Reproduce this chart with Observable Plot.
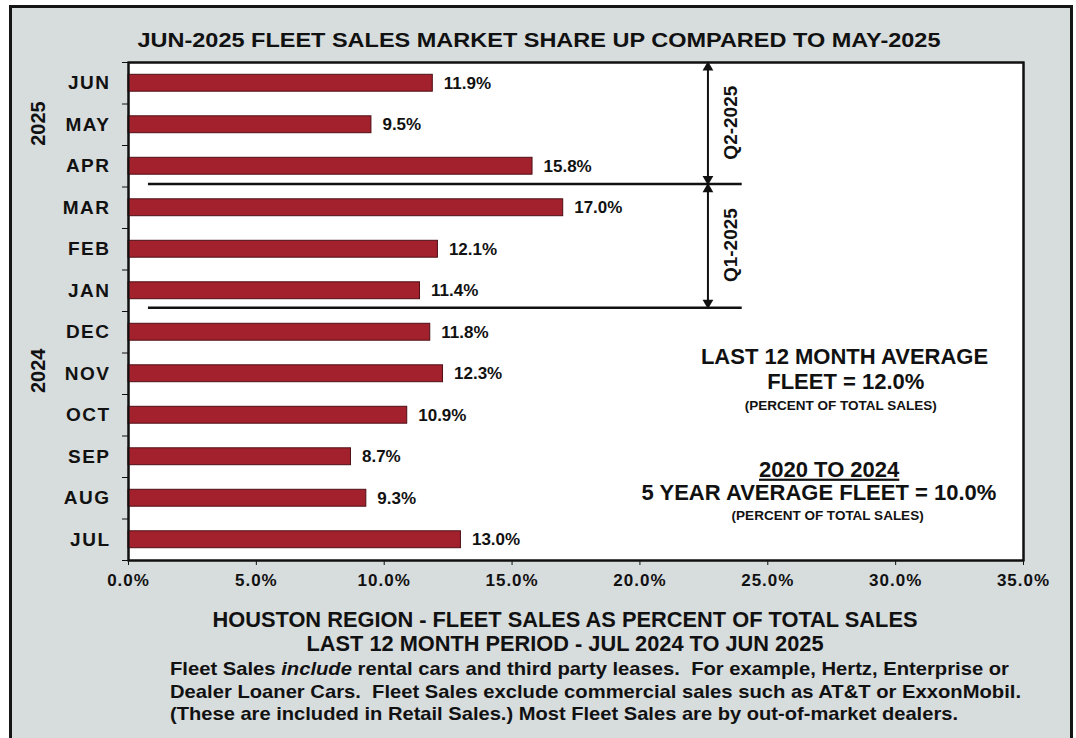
<!DOCTYPE html>
<html><head><meta charset="utf-8">
<script src="https://cdn.jsdelivr.net/npm/d3@7"></script>
<script src="https://cdn.jsdelivr.net/npm/@observablehq/plot@0.6"></script>
<style>
html,body{margin:0;padding:0;background:#fff;}
#page{position:relative;width:1076px;height:738px;overflow:hidden;font-family:"Liberation Sans",Arial,sans-serif;}
#border{position:absolute;left:9px;top:5px;width:1058px;height:745px;border:3px solid #151515;background:#d7dcdd;}
#title,#chart,#caption{position:absolute;left:0;}
#title{top:0;}
#chart{top:50px;}
#caption{top:600px;}
#caption text{white-space:pre;}
</style></head>
<body><div id="page"><div id="border"></div>
<svg id="title" width="1076" height="60"><text x="539" y="47" text-anchor="middle" font-family="Liberation Sans, Arial, sans-serif" font-weight="bold" font-size="21" fill="#111" textLength="803" lengthAdjust="spacingAndGlyphs">JUN-2025 FLEET SALES MARKET SHARE UP COMPARED TO MAY-2025</text></svg>
<div id="chart"></div>
<svg id="caption" width="1076" height="138" font-family="Liberation Sans, Arial, sans-serif" font-weight="bold" fill="#111">
<text x="565" y="27" text-anchor="middle" font-size="22" textLength="705" lengthAdjust="spacingAndGlyphs">HOUSTON REGION - FLEET SALES AS PERCENT OF TOTAL SALES</text>
<text x="565" y="51" text-anchor="middle" font-size="22" textLength="517" lengthAdjust="spacingAndGlyphs">LAST 12 MONTH PERIOD - JUL 2024 TO JUN 2025</text>
<text x="170" y="75" font-size="18.5" textLength="839" lengthAdjust="spacingAndGlyphs">Fleet Sales <tspan font-style="italic">include</tspan> rental cars and third party leases.  For example, Hertz, Enterprise or</text>
<text x="170" y="98" font-size="18.5" textLength="851" lengthAdjust="spacingAndGlyphs">Dealer Loaner Cars.  Fleet Sales exclude commercial sales such as AT&amp;T or ExxonMobil.</text>
<text x="170" y="120" font-size="18.5" textLength="788" lengthAdjust="spacingAndGlyphs">(These are included in Retail Sales.) Most Fleet Sales are by out-of-market dealers.</text>
</svg>
</div>
<script>
const months = ["JUN","MAY","APR","MAR","FEB","JAN","DEC","NOV","OCT","SEP","AUG","JUL"];
const fleetShare = [11.9, 9.5, 15.8, 17.0, 12.1, 11.4, 11.8, 12.3, 10.9, 8.7, 9.3, 13.0];
const xTicks = [0, 5, 10, 15, 20, 25, 30, 35];
const years = ["2025", "2024"];
const quarterLabels = ["Q2-2025", "Q1-2025"];

const rows = months.map((m, i) => ({month: m, idx: i, value: fleetShare[i]}));
const ink = "#111";
const font = "Liberation Sans, Arial, sans-serif";

const plot = Plot.plot({
  width: 1076, height: 550,
  marginLeft: 128, marginRight: 53, marginTop: 12, marginBottom: 40,
  style: {background: "transparent", fontFamily: font, fontWeight: "bold", color: ink, overflow: "visible"},
  x: {domain: [0, 35]},
  y: {domain: [0, 12], reverse: true},
  marks: [
    Plot.frame({fill: "white", stroke: ink, strokeWidth: 2}),
    Plot.rect(rows, {x1: 0, x2: "value", y1: "idx", y2: d => d.idx + 1, insetTop: 12.3, insetBottom: 12.3,
      fill: "#a3212d", stroke: "#4d0e14", strokeWidth: 1}),
    Plot.text(rows, {x: "value", y: d => d.idx + 0.5, text: d => d.value.toFixed(1) + "%", textAnchor: "start", dx: 11,
      fontSize: 17, fontWeight: "bold", fill: ink, ariaLabel: "value-label"}),
    Plot.axisX({ticks: xTicks, tickFormat: d => d.toFixed(1) + "%", tickSize: 5, tickPadding: 8, fontSize: 17, fontWeight: "bold", label: null, stroke: ink}),
    Plot.axisY({ticks: d3.range(0, 13), tickFormat: () => "", tickSize: 6, label: null, stroke: ink}),
    Plot.axisY({ticks: months.map((m, i) => i + 0.5), tickFormat: d => months[Math.round(d - 0.5)], tickSize: 0, tickPadding: 18, fontSize: 19, fontWeight: "bold", label: null}),
    Plot.text(years, {y: (d, i) => [1.47, 7.43][i], frameAnchor: "left", textAnchor: "middle", dx: -90, rotate: -90, text: d => d, fontSize: 20, fontWeight: "bold", fill: ink, ariaLabel: "year-label"}),
    Plot.ruleY([2.93, 5.91], {x1: 0.78, x2: 24.0, strokeWidth: 2.5, stroke: ink}),
    Plot.link([[0, 2.93], [2.93, 5.91]], {x1: 22.66, x2: 22.66, y1: d => d[0], y2: d => d[1], strokeWidth: 2, stroke: ink}),
    Plot.dot([0, 2.93], {x: 22.66, y: d => d, dy: 5, symbol: "triangle", r: 4, fill: ink, stroke: null}),
    Plot.dot([2.93, 5.91], {x: 22.66, y: d => d, dy: -5, symbol: "triangle", rotate: 180, r: 4, fill: ink, stroke: null}),
    Plot.text(quarterLabels, {x: 23.55, y: (d, i) => [1.45, 4.4][i], rotate: -90, text: d => d, fontSize: 19, fontWeight: "bold", fill: ink}),
    Plot.text(["LAST 12 MONTH AVERAGE"], {x: 28.0, y: 7.09, text: d => d, fontSize: 22, fontWeight: "bold", fill: ink}),
    Plot.text(["FLEET = 12.0%"], {x: 28.05, y: 7.69, text: d => d, fontSize: 22, fontWeight: "bold", fill: ink}),
    Plot.text(["(PERCENT OF TOTAL SALES)"], {x: 27.85, y: 8.27, text: d => d, fontSize: 13.5, fontWeight: "bold", fill: ink}),
    Plot.text(["2020 TO 2024"], {x: 27.4, y: 9.81, text: d => d, fontSize: 22, fontWeight: "bold", fill: ink}),
    Plot.text(["5 YEAR AVERAGE FLEET = 10.0%"], {x: 27.0, y: 10.38, text: d => d, fontSize: 22, fontWeight: "bold", fill: ink}),
    Plot.text(["(PERCENT OF TOTAL SALES)"], {x: 27.34, y: 10.91, text: d => d, fontSize: 13.5, fontWeight: "bold", fill: ink}),
    Plot.frame({stroke: ink, strokeWidth: 2})
  ]
});
document.getElementById("chart").appendChild(plot);
const s = d3.select(plot);
s.selectAll("text").filter(function() { return this.textContent === "2020 TO 2024"; })
  .style("text-decoration", "underline");
s.selectAll('g[aria-label="y-axis tick label"] text').style("letter-spacing", "1.5px");
s.selectAll('g[aria-label="x-axis tick label"] text').style("letter-spacing", "1px");
s.selectAll('g[aria-label="value-label"] text').style("letter-spacing", "0.6px");
s.selectAll('g[aria-label="year-label"] text').style("letter-spacing", "1.5px");
</script>
</body></html>
